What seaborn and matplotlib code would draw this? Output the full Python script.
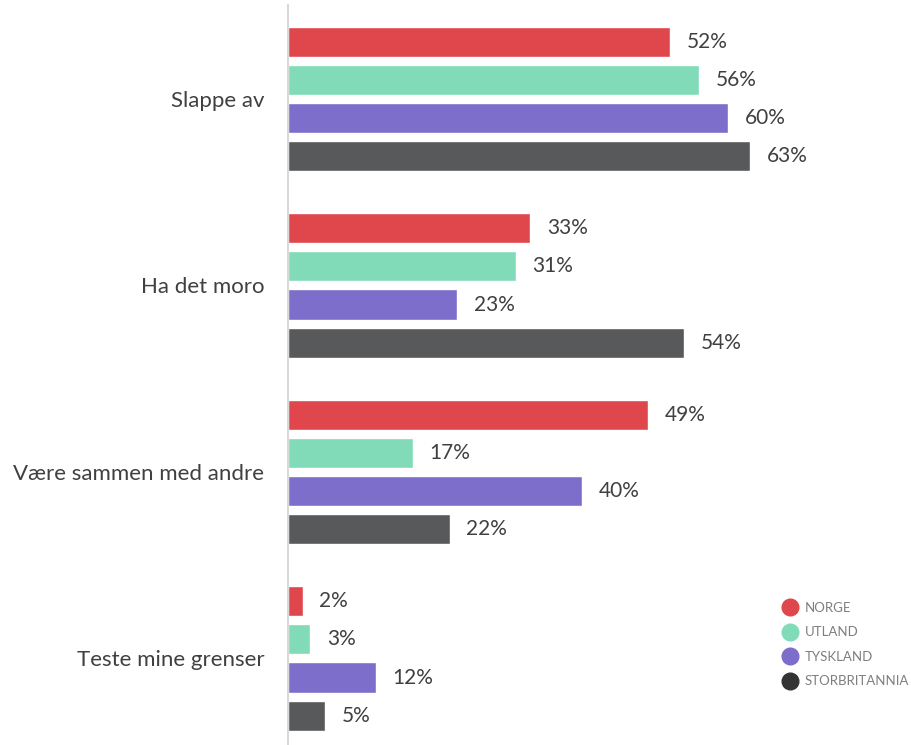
import numpy as np
import pandas as pd
import seaborn as sns
import matplotlib.pyplot as plt
from matplotlib.lines import Line2D

# data
kategorier = ['Slappe av', 'Ha det moro', 'Være sammen med andre', 'Teste mine grenser']
land = ['NORGE', 'UTLAND', 'TYSKLAND', 'STORBRITANNIA']
norge = [52, 33, 49, 2]
utland = [56, 31, 17, 3]
tyskland = [60, 23, 40, 12]
storbritannia = [63, 54, 22, 5]
farger = ['#E0474C', '#82DBB8', '#7D6ECC', '#58595B']

df = pd.DataFrame({'kategori': kategorier * 4,
                   'land': np.repeat(land, 4),
                   'verdi': norge + utland + tyskland + storbritannia})

sns.set_style('white')
plt.rcParams['font.family'] = ['Lato', 'DejaVu Sans']

fig = plt.figure(figsize=(9.12, 7.45), dpi=100)
ax = fig.add_axes([288 / 912, 0, 1 - 288 / 912, 740 / 745])
sns.barplot(data=df, y='kategori', x='verdi', hue='land', order=kategorier,
            hue_order=land, palette=farger, orient='h', width=0.817, gap=0.21,
            ax=ax, legend=False, saturation=1)

# verdietiketter
for cont in ax.containers:
    ax.bar_label(cont, labels=[f'{int(v)}%' for v in cont.datavalues],
                 padding=12, fontsize=15, color='#404040')

ax.set_xlim(0, 85)
ax.set_ylim(3.464, -0.504)
ax.set_xlabel('')
ax.set_ylabel('')
ax.set_xticks([])
for s in ['top', 'right', 'bottom']:
    ax.spines[s].set_visible(False)
ax.spines['left'].set_color('#D9D9D9')
ax.spines['left'].set_linewidth(1.5)
ax.tick_params(axis='y', length=0, pad=17, labelsize=16, labelcolor='#404040')

# legende
handles = [Line2D([], [], marker='o', ls='', markersize=12, color=c) for c in farger[:3]]
handles.append(Line2D([], [], marker='o', ls='', markersize=12, color='#333333'))
leg = fig.legend(handles, land, loc='upper left', bbox_to_anchor=(770 / 912, 1 - 590 / 745),
                 frameon=False, fontsize=9.5, labelcolor='#7F7F7F',
                 handletextpad=0.55, labelspacing=0.95, handlelength=1.2)

fig.savefig('out.png', dpi=100)
